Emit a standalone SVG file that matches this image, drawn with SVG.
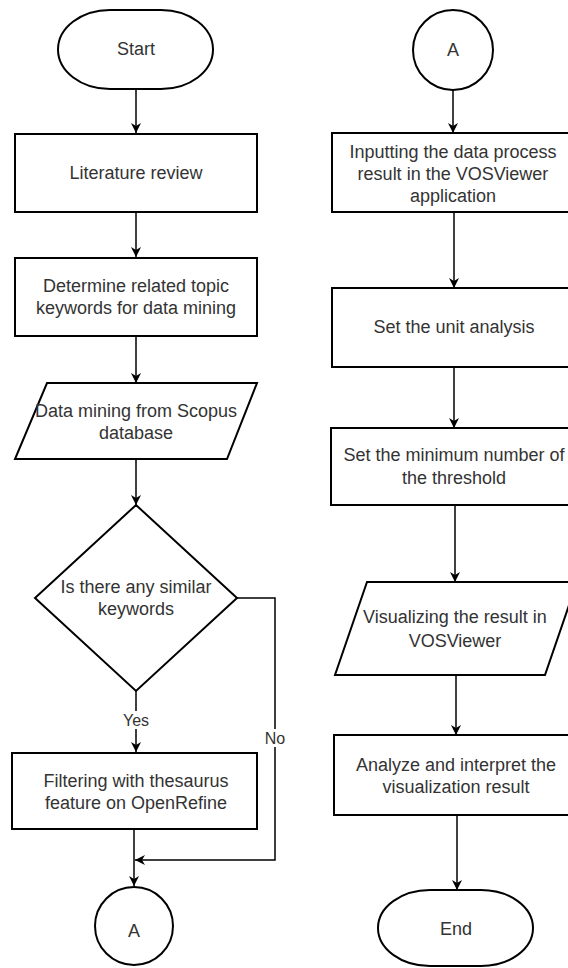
<svg xmlns="http://www.w3.org/2000/svg" width="568" height="968" viewBox="0 0 568 968">
  <defs>
    <marker id="arrow" viewBox="0 0 10 10" refX="10" refY="5" markerWidth="10" markerHeight="10" markerUnits="userSpaceOnUse" orient="auto">
      <path d="M0,0 L10,5 L0,10 L3,5 z" fill="#000"/>
    </marker>
    <style>
      .shape { fill: #fff; stroke: #000; stroke-width: 2; }
      .edge { fill: none; stroke: #000; stroke-width: 1.5; }
      .label { font-family: "Liberation Sans", Arial, sans-serif; font-size: 18px; fill: #333; text-anchor: middle; }
      .elabel { font-family: "Liberation Sans", Arial, sans-serif; font-size: 16px; fill: #333; text-anchor: middle; }
    </style>
  </defs>
  <rect width="568" height="968" fill="#fff"/>

  <!-- connectors -->
  <g id="connectors">
    <path class="edge" d="M136,89 V133" marker-end="url(#arrow)"/>
    <path class="edge" d="M136,212 V257" marker-end="url(#arrow)"/>
    <path class="edge" d="M136,336 V383" marker-end="url(#arrow)"/>
    <path class="edge" d="M136,459 V505" marker-end="url(#arrow)"/>
    <path class="edge" d="M136,691 V752" marker-end="url(#arrow)"/>
    <path class="edge" d="M237,598 H275 V860 H135" marker-end="url(#arrow)"/>
    <path class="edge" d="M134,829 V886" marker-end="url(#arrow)"/>
    <rect x="122" y="711" width="28" height="18" fill="#fff"/>
    <text class="elabel" x="136" y="726">Yes</text>
    <rect x="262" y="729" width="26" height="18" fill="#fff"/>
    <text class="elabel" x="275" y="744">No</text>

    <path class="edge" d="M453,90 V133" marker-end="url(#arrow)"/>
    <path class="edge" d="M454,212 V288" marker-end="url(#arrow)"/>
    <path class="edge" d="M454,367 V428" marker-end="url(#arrow)"/>
    <path class="edge" d="M455,505 V582" marker-end="url(#arrow)"/>
    <path class="edge" d="M456,675 V735" marker-end="url(#arrow)"/>
    <path class="edge" d="M457,815 V890" marker-end="url(#arrow)"/>
  </g>

  <!-- left column -->
  <g id="start">
    <rect class="shape" x="58" y="10" width="155" height="79" rx="52" ry="39.5"/>
    <text class="label" x="136" y="55">Start</text>
  </g>
  <g id="literature-review">
    <rect class="shape" x="15" y="134" width="242" height="78"/>
    <text class="label" x="136" y="179">Literature review</text>
  </g>
  <g id="determine-keywords">
    <rect class="shape" x="15" y="258" width="242" height="78"/>
    <text class="label" x="136" y="292">Determine related topic</text>
    <text class="label" x="136" y="314">keywords for data mining</text>
  </g>
  <g id="data-mining">
    <polygon class="shape" points="47,383 257,383 227,459 15,459"/>
    <text class="label" x="136" y="417">Data mining from Scopus</text>
    <text class="label" x="136" y="439">database</text>
  </g>
  <g id="similar-keywords">
    <polygon class="shape" points="136,505 237,598 136,691 35,598"/>
    <text class="label" x="136" y="593">Is there any similar</text>
    <text class="label" x="136" y="615">keywords</text>
  </g>
  <g id="filtering">
    <rect class="shape" x="12" y="753" width="245" height="76"/>
    <text class="label" x="136" y="787">Filtering with thesaurus</text>
    <text class="label" x="136" y="809">feature on OpenRefine</text>
  </g>
  <g id="connector-a-out">
    <circle class="shape" cx="134" cy="926" r="39"/>
    <text class="label" x="134" y="937">A</text>
  </g>

  <!-- right column -->
  <g id="connector-a-in">
    <circle class="shape" cx="453" cy="50" r="40"/>
    <text class="label" x="453" y="56">A</text>
  </g>
  <g id="input-vosviewer">
    <rect class="shape" x="332" y="133" width="242" height="79"/>
    <text class="label" x="453" y="158">Inputting the data process</text>
    <text class="label" x="453" y="180">result in the VOSViewer</text>
    <text class="label" x="453" y="202">application</text>
  </g>
  <g id="unit-analysis">
    <rect class="shape" x="332" y="288" width="242" height="79"/>
    <text class="label" x="454" y="333">Set the unit analysis</text>
  </g>
  <g id="threshold">
    <rect class="shape" x="331" y="428" width="242" height="77"/>
    <text class="label" x="454" y="461">Set the minimum number of</text>
    <text class="label" x="454" y="484">the threshold</text>
  </g>
  <g id="visualizing">
    <polygon class="shape" points="367,582 577,582 545,675 335,675"/>
    <text class="label" x="455" y="623">Visualizing the result in</text>
    <text class="label" x="455" y="647">VOSViewer</text>
  </g>
  <g id="analyze">
    <rect class="shape" x="334" y="735" width="242" height="80"/>
    <text class="label" x="456" y="771">Analyze and interpret the</text>
    <text class="label" x="456" y="793">visualization result</text>
  </g>
  <g id="end">
    <rect class="shape" x="378" y="890" width="155" height="76" rx="52" ry="38"/>
    <text class="label" x="456" y="935">End</text>
  </g>
</svg>
